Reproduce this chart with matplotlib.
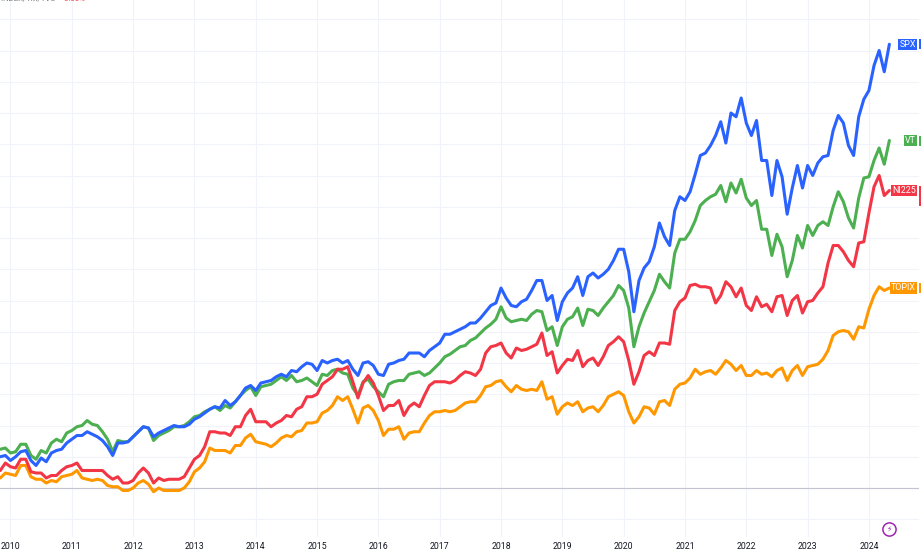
import numpy as np
import pandas as pd
import matplotlib
matplotlib.use("Agg")
import matplotlib.pyplot as plt
from matplotlib.patches import Rectangle
from matplotlib.transforms import blended_transform_factory

# monthly bars, Nov 2009 .. May 2024, % change
months = pd.date_range("2009-11-01", periods=175, freq="MS")

spx = [25, 26, 22, 25, 29, 30, 22, 18, 24, 21,
       28, 30, 31, 36, 39, 42, 42, 45, 43, 41,
       38, 33, 26, 36, 36, 37, 41, 45, 49, 48,
       41, 44, 46, 48, 50, 49, 49, 51, 55, 57,
       60, 63, 65, 64, 70, 66, 69, 74, 80, 82,
       78, 84, 85, 86, 89, 91, 89, 94, 93, 97,
       100, 99, 94, 102, 100, 102, 103, 100, 102, 95,
       90, 100, 101, 98, 91, 90, 99, 100, 102, 103,
       108, 108, 108, 105, 110, 113, 116, 123, 123, 125,
       127, 129, 132, 132, 136, 141, 146, 148, 160, 152,
       146, 145, 149, 151, 158, 166, 166, 150, 154, 134,
       149, 156, 160, 169, 154, 169, 172, 168, 171, 175,
       182, 191, 191, 173, 141, 166, 176, 181, 193, 212,
       201, 194, 222, 233, 230, 237, 251, 266, 268, 274,
       282, 293, 276, 300, 297, 312, 292, 282, 294, 262,
       262, 234, 262, 249, 219, 240, 258, 240, 258, 250,
       260, 265, 266, 286, 298, 292, 274, 266, 297, 311,
       318, 338, 350, 333, 355]

vt = [31, 32, 28, 29, 35, 35, 26, 23, 30, 28,
      36, 39, 37, 44, 46, 49, 50, 54, 51, 50,
      45, 39, 29, 38, 37, 37, 41, 45, 49, 48,
      38, 42, 44, 46, 49, 49, 50, 53, 57, 58,
      61, 63, 65, 62, 66, 64, 69, 74, 78, 81,
      74, 81, 82, 83, 86, 89, 86, 90, 85, 86,
      88, 85, 82, 91, 90, 94, 95, 92, 91, 80,
      74, 85, 87, 81, 77, 73, 83, 85, 86, 86,
      91, 92, 93, 90, 92, 96, 100, 105, 107, 110,
      113, 114, 118, 120, 124, 128, 131, 135, 145, 136,
      133, 134, 135, 134, 139, 142, 141, 126, 129, 114,
      129, 135, 137, 144, 130, 143, 142, 138, 144, 149,
      154, 162, 158, 144, 113, 129, 140, 149, 158, 171,
      165, 160, 188, 199, 199, 205, 214, 226, 230, 233,
      235, 242, 229, 244, 236, 247, 232, 226, 230, 207,
      207, 186, 203, 193, 169, 182, 202, 192, 210, 202,
      210, 213, 210, 225, 237, 229, 216, 208, 232, 248,
      249, 262, 272, 259, 278]

ni225 = [14, 20, 17, 16, 23, 23, 13, 12, 12, 8,
         10, 10, 14, 17, 18, 20, 14, 14, 14, 14,
         14, 10, 7, 9, 4, 4, 6, 12, 16, 12,
         4, 8, 6, 7, 7, 7, 9, 16, 23, 26,
         33, 45, 45, 44, 44, 42, 49, 49, 58, 63,
         53, 53, 53, 49, 52, 54, 58, 57, 63, 65,
         73, 73, 75, 83, 86, 89, 95, 95, 97, 85,
         72, 84, 90, 84, 74, 62, 66, 66, 70, 58,
         65, 68, 65, 74, 82, 85, 85, 85, 84, 86,
         90, 93, 92, 90, 95, 108, 113, 114, 116, 108,
         104, 112, 110, 111, 113, 115, 124, 106, 109, 92,
         98, 103, 102, 110, 97, 102, 104, 98, 105, 114,
         117, 121, 117, 102, 83, 93, 106, 109, 106, 116,
         116, 115, 142, 149, 152, 162, 163, 161, 161, 160,
         148, 154, 165, 161, 153, 160, 146, 142, 153, 145,
         147, 141, 153, 154, 138, 150, 154, 140, 149, 150,
         156, 161, 180, 194, 194, 189, 182, 177, 196, 197,
         220, 241, 250, 234, 238]

topix = [8, 12, 11, 10, 18, 18, 9, 7, 7, 4,
         6, 5, 9, 10, 11, 14, 8, 7, 6, 7,
         6, 2, 1, 1, -2, -2, 0, 4, 6, 3,
         -3, 0, -2, -2, -2, -2, 0, 5, 13, 16,
         21, 32, 30, 30, 30, 28, 34, 34, 40, 43,
         37, 36, 35, 33, 36, 40, 42, 41, 45, 46,
         52, 52, 53, 60, 62, 66, 73, 70, 73, 63,
         52, 64, 66, 62, 54, 42, 47, 47, 49, 39,
         44, 45, 45, 52, 58, 61, 61, 62, 61, 62,
         65, 68, 69, 69, 74, 81, 82, 85, 86, 81,
         77, 82, 79, 78, 79, 78, 85, 71, 73, 59,
         65, 68, 66, 69, 61, 64, 65, 61, 66, 73,
         75, 77, 74, 61, 52, 57, 65, 64, 59, 69,
         70, 66, 79, 83, 84, 88, 95, 91, 93, 94,
         91, 96, 102, 99, 94, 98, 90, 90, 94, 91,
         92, 89, 94, 96, 86, 94, 98, 90, 97, 98,
         99, 103, 110, 122, 125, 126, 125, 119, 129, 128,
         143, 154, 161, 158, 160]

# drawing order: later on top
series = [
    ("VT", vt, "#4caf50"),
    ("SPX", spx, "#2962ff"),
    ("TOPIX", topix, "#ff9800"),
    ("NI225", ni225, "#f23645"),
]

W, H = 921, 549
fig = plt.figure(figsize=(W / 100, H / 100), dpi=100)
fig.patch.set_facecolor("white")
ax = fig.add_axes([0, 12 / H, 919 / W, 537 / H])

x = np.arange(len(months))
for name, vals, col in series:
    ax.plot(x, vals, color=col, lw=2.2, solid_joinstyle="round",
            solid_capstyle="round", zorder=3)

ax.set_xlim(-0.053, 179.8)
ax.set_ylim(-39.2, 390.4)

jan = x[months.month == 1]
ax.set_xticks(jan)
ax.set_xticklabels([str(y) for y in months.year[months.month == 1]],
                   fontfamily="Roboto")
ax.set_yticks(np.arange(-25, 400, 25))
ax.tick_params(axis="x", length=0, pad=3.8, labelsize=6.3, colors="#131722")
ax.tick_params(axis="y", length=0, labelleft=False)
ax.grid(True, color="#f0f3fa", lw=0.8, zorder=0)
ax.axhline(0, color="#c4c3d0", lw=0.8, zorder=2)
for s in ax.spines.values():
    s.set_visible(False)

# series name tags + clipped price-scale labels on the right
tr = blended_transform_factory(ax.transAxes, ax.transData)
for name, vals, col in series:
    last = vals[-1]
    ax.annotate(name, xy=(1, last), xycoords=tr, xytext=(-2.0, 0),
                textcoords="offset points", ha="right", va="center",
                fontsize=6.4, fontfamily="Roboto", color="white",
                bbox=dict(boxstyle="square,pad=0.14", fc=col, ec="none"),
                annotation_clip=False, zorder=5)
    lo, hi = (last - 12, last + 4) if name == "NI225" else (last - 4, last + 4)
    ax.add_patch(Rectangle((1.0005, lo), 0.01, hi - lo, transform=tr,
                           fc=col, ec="none", clip_on=False, zorder=5))

# header (cut off at the top in the screenshot)
fig.text(1 / W, 1 + 1.5 / H, "INDEX, 1M, TVC", fontsize=5.6, color="#787b86",
         va="center", ha="left", fontfamily="Roboto")
fig.text(63 / W, 1 + 1.5 / H, "-0.00%", fontsize=5.6, color="#f23645",
         va="center", ha="left", fontfamily="Roboto")

# lightning badge
bx, by = 889 / 919, (537 - 529) / 537
ax.plot([bx], [by], marker="o", ms=9.5, mfc="white", mec="#9c27b0", mew=1.1,
        transform=ax.transAxes, clip_on=False, zorder=6)
ax.text(bx, by, "\u26a1", transform=ax.transAxes, ha="center", va="center",
        fontsize=5.5, color="#9c27b0", fontfamily="DejaVu Sans", zorder=7)

fig.savefig("out.png", dpi=100)
